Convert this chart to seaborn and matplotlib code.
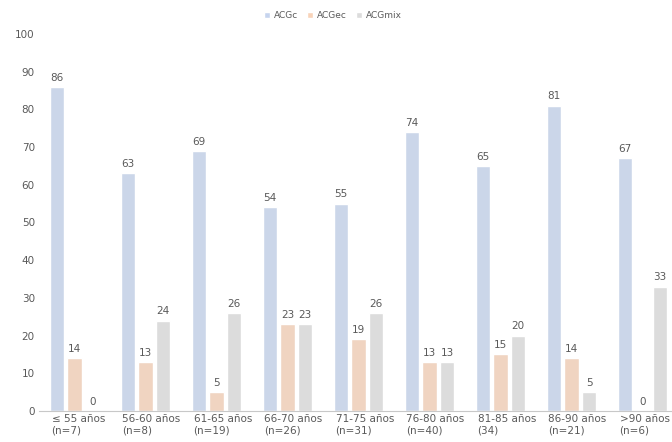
import matplotlib
matplotlib.use("Agg")
import matplotlib.pyplot as plt
import matplotlib.transforms as mt
from matplotlib.patches import Patch
import seaborn as sns
import pandas as pd

categories = ["≤ 55 años\n(n=7)", "56-60 años\n(n=8)", "61-65 años\n(n=19)", "66-70 años\n(n=26)",
              "71-75 años\n(n=31)", "76-80 años\n(n=40)", "81-85 años\n(34)", "86-90 años\n(n=21)",
              ">90 años\n(n=6)"]
acgc = [86, 63, 69, 54, 55, 74, 65, 81, 67]
acgec = [14, 13, 5, 23, 19, 13, 15, 14, 0]
acgmix = [0, 24, 26, 23, 26, 13, 20, 5, 33]
series = ["ACGc", "ACGec", "ACGmix"]
colors = ["#c6d4ee", "#f8d3b9", "#dcdcdc"]

df = pd.DataFrame({"cat": categories * 3,
                   "serie": [series[0]] * 9 + [series[1]] * 9 + [series[2]] * 9,
                   "val": acgc + acgec + acgmix})

sns.set_style("white")
fig = plt.figure(figsize=(6.72, 4.42), dpi=100)
ax = fig.add_axes([39 / 672, 31 / 442, 639 / 672, 377 / 442])
sns.barplot(data=df, x="cat", y="val", hue="serie", palette=colors, ax=ax,
            width=0.75, gap=0.2, legend=False)

txt = "#595959"
for cont in ax.containers:
    ax.bar_label(cont, fmt="%d", padding=3, fontsize=7.5, color=txt)

ax.set_ylim(0, 100)
ax.set_yticks(range(0, 101, 10))
ax.set_xlim(-0.5, 8.5)
ax.set_xlabel("")
ax.set_ylabel("")
for s in ["top", "right", "left"]:
    ax.spines[s].set_visible(False)
ax.spines["bottom"].set_color("#c8c8c8")
ax.tick_params(axis="y", labelsize=7.5, colors=txt, length=0, pad=3)
ax.tick_params(axis="x", labelsize=7.5, colors=txt, length=0, pad=2)
off = mt.ScaledTranslation(-23 / 100, 0, fig.dpi_scale_trans)
for lbl in ax.get_xticklabels():
    lbl.set_ha("left")
    lbl.set_transform(lbl.get_transform() + off)

handles = [Patch(facecolor=c, label=s) for c, s in zip(colors, series)]
fig.legend(handles=handles, loc="center", bbox_to_anchor=(0.495, 0.965), ncol=3,
           frameon=False, fontsize=6.5, labelcolor=txt, handlelength=0.7, handleheight=0.7,
           handletextpad=0.4, columnspacing=1.0)

fig.savefig("out.png", dpi=100)
